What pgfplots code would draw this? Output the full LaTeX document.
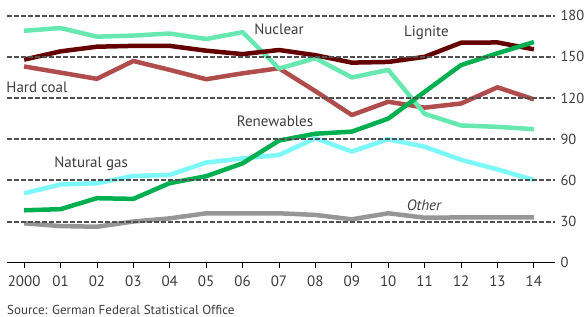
\documentclass[border=0pt]{standalone}
\usepackage{pgfplots}
\pgfplotsset{compat=1.18}
\usepackage{fontspec}
\setmainfont{PT Sans}
\definecolor{nuc}{RGB}{102,232,176}
\definecolor{lig}{RGB}{100,0,0}
\definecolor{hard}{RGB}{176,76,76}
\definecolor{ren}{RGB}{0,176,80}
\definecolor{gas}{RGB}{125,248,248}
\definecolor{oth}{RGB}{150,150,150}
\definecolor{txt}{RGB}{60,60,60}
\definecolor{gridc}{RGB}{80,80,80}
\begin{document}
\begin{tikzpicture}
\begin{axis}[name=ax, at={(0,0)}, anchor=south west,
  scale only axis, width=548pt, height=247pt,
  xmin=1999.53, xmax=2014.58, ymin=0, ymax=180,
  axis on top, clip=false, no markers,
  axis x line*=bottom, axis y line*=right,
  y axis line style={draw=none},
  x axis line style={black, line width=0.8pt},
  xtick={2000,...,2014},
  xticklabels={2000,01,02,03,04,05,06,07,08,09,10,11,12,13,14},
  tick align=outside,
  major tick length=5pt,
  xtick style={black, line width=0.8pt},
  ytick={30,60,...,180},
  ytick style={draw=none},
  extra y ticks={0},
  extra y tick style={ymajorgrids=false},
  ymajorgrids,
  grid style={gridc, line width=2pt, dash pattern=on 5pt off 2pt},
  yticklabel pos=right,
  /pgf/number format/assume math mode=true,
  tick label style={font=\fontsize{15}{17}\selectfont, text=txt},
  xticklabel style={yshift=-4.5pt},
  yticklabel style={font=\fontsize{14.5}{17}\selectfont, xshift=-3pt},
  every axis plot/.append style={line join=round},
]
\addplot[oth, line width=4.5pt] coordinates {(2000,28.7)(2001,26.7)(2002,26.2)(2003,30)(2004,32.3)(2005,36)(2006,36)(2007,36)(2008,34.8)(2009,31.6)(2010,36)(2011,32.8)(2012,33)(2013,33)(2014,33)};
\addplot[gas, line width=4.5pt] coordinates {(2000,50.6)(2001,57)(2002,57.9)(2003,63.2)(2004,64)(2005,73)(2006,76)(2007,78.5)(2008,90.7)(2009,81)(2010,90)(2011,84.5)(2012,75)(2013,68)(2014,60.3)};
\addplot[hard, line width=4.5pt] coordinates {(2000,143)(2001,138.5)(2002,134)(2003,147)(2004,140.5)(2005,133.7)(2006,138)(2007,141.7)(2008,125)(2009,107.6)(2010,117.3)(2011,113)(2012,116)(2013,127.8)(2014,119)};
\addplot[nuc, line width=4.5pt] coordinates {(2000,169)(2001,171)(2002,164.7)(2003,165.5)(2004,167)(2005,163)(2006,168)(2007,141.5)(2008,149)(2009,135)(2010,140.5)(2011,108.5)(2012,100)(2013,99)(2014,97.3)};
\addplot[lig, line width=4.5pt] coordinates {(2000,148)(2001,154)(2002,157.4)(2003,158)(2004,158)(2005,154.5)(2006,152)(2007,155)(2008,151.2)(2009,145.8)(2010,146.3)(2011,150)(2012,160.3)(2013,160.5)(2014,155.5)};
\addplot[ren, line width=4.5pt] coordinates {(2000,38.2)(2001,39)(2002,47)(2003,46.5)(2004,58)(2005,63)(2006,72.4)(2007,89)(2008,94)(2009,95.5)(2010,105)(2011,124.5)(2012,144)(2013,152.6)(2014,160.8)};
\begin{scope}[every node/.style={font=\fontsize{15}{17}\selectfont, text=txt, inner sep=0pt}]
\node at (axis cs:2007.0,170.3) {Nuclear};
\node at (axis cs:2011.05,167.4) {Lignite};
\node[anchor=west] at (axis cs:1999.51,127.7) {Hard coal};
\node at (axis cs:2006.89,103.3) {Renewables};
\node at (axis cs:2001.84,71.9) {Natural gas};
\node at (axis cs:2010.98,42) {\itshape Other};
\end{scope}
\end{axis}
\node[anchor=west, inner sep=0pt, font=\fontsize{13}{15}\selectfont, text=txt] at ([shift={(0pt,-47.3pt)}]ax.south west) {Source: German Federal Statistical Office};
\pgfresetboundingbox
\path[use as bounding box] ([shift={(-7pt,-54.3pt)}]ax.south west) rectangle ([shift={(31pt,15.7pt)}]ax.north east);
\end{tikzpicture}
\end{document}
